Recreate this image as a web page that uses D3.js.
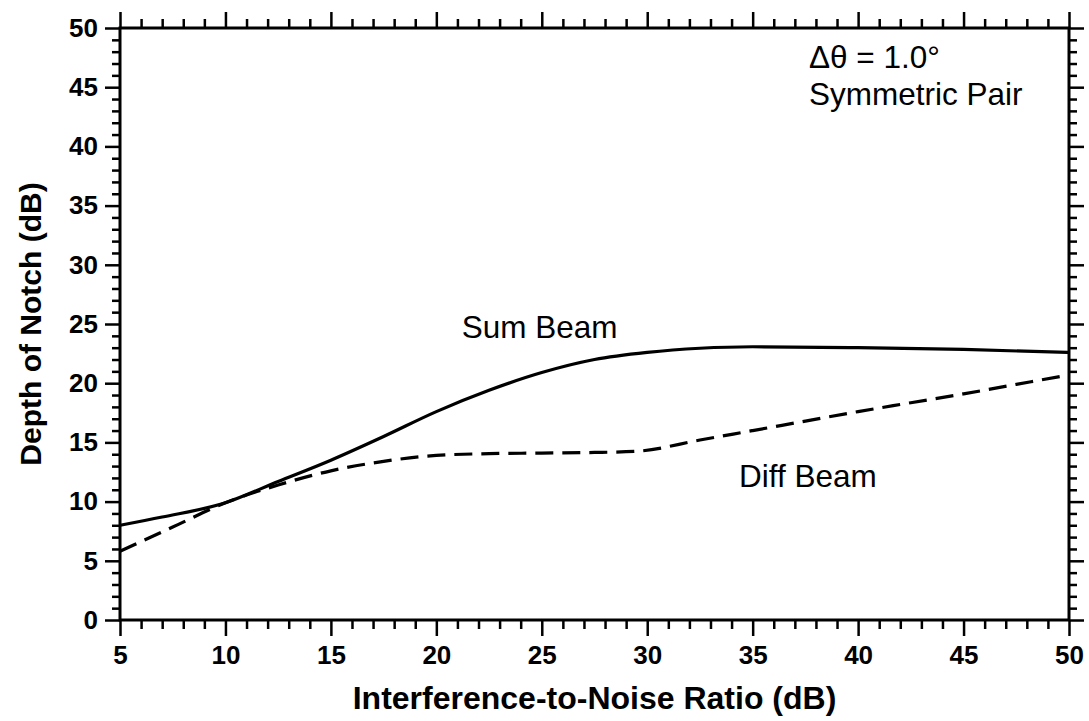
<!DOCTYPE html>
<html><head><meta charset="utf-8">
<script src="https://cdn.jsdelivr.net/npm/d3@7"></script>
<style>
body{margin:0;background:#fff;}
svg{display:block;}
</style></head>
<body>
<svg id="c" width="1089" height="721"></svg>
<script>
const inrSum = [5, 7, 10, 12.5, 15, 17.5, 20, 22.5, 25, 27.5, 30, 32.5, 35, 40, 45, 50];
const sumBeam = [8.0, 8.7, 9.9, 11.7, 13.5, 15.5, 17.6, 19.4, 20.9, 22.0, 22.6, 22.95, 23.08, 23.0, 22.85, 22.6];
const inrDiff = [5, 7.5, 10, 12.5, 15, 17.5, 20, 22.5, 25, 27.5, 29.5, 32.5, 35, 37.5, 40, 42.5, 45, 47.5, 50];
const diffBeam = [5.8, 7.85, 9.9, 11.4, 12.6, 13.4, 13.9, 14.05, 14.1, 14.15, 14.25, 15.2, 16.0, 16.8, 17.6, 18.35, 19.1, 19.9, 20.7];
const xMajor = [5, 10, 15, 20, 25, 30, 35, 40, 45, 50];
const yMajor = [0, 5, 10, 15, 20, 25, 30, 35, 40, 45, 50];
const xTitle = "Interference-to-Noise Ratio (dB)";
const yTitle = "Depth of Notch (dB)";
const labels = [
  {text: "Sum Beam", x: 21.2, y: 23.8},
  {text: "Diff Beam", x: 34.35, y: 11.2},
  {text: "Δθ = 1.0°", x: 37.67, y: 46.6},
  {text: "Symmetric Pair", x: 37.67, y: 43.5}
];

const svg = d3.select("#c");
const L = 120, R = 1069, T = 28, B = 620;
const x = d3.scaleLinear().domain([5, 50]).range([L, R]);
const y = d3.scaleLinear().domain([0, 50]).range([B, T]);
const xMinor = d3.range(5, 51, 1).filter(v => v % 5 !== 0);
const yMinor = d3.range(0, 51, 1).filter(v => v % 5 !== 0);
const font = "'Liberation Sans', Arial, sans-serif";

function styleAxis(g){
  g.select(".domain").remove();
  g.selectAll(".tick line").attr("stroke", "#000").attr("stroke-width", 2.5);
  g.selectAll(".tick text").attr("fill", "#000").attr("font-family", font).attr("font-weight", "bold").attr("font-size", 26);
}
// bottom
svg.append("g").attr("transform", `translate(0,${B})`)
  .call(d3.axisBottom(x).tickValues(xMajor).tickSize(16).tickPadding(10).tickFormat(d3.format("d"))).call(styleAxis);
svg.append("g").attr("transform", `translate(0,${B})`)
  .call(d3.axisBottom(x).tickValues(xMinor).tickSize(9).tickFormat("")).call(styleAxis);
// top
svg.append("g").attr("transform", `translate(0,${T})`)
  .call(d3.axisTop(x).tickValues(xMajor).tickSize(16).tickFormat("")).call(styleAxis);
svg.append("g").attr("transform", `translate(0,${T})`)
  .call(d3.axisTop(x).tickValues(xMinor).tickSize(9).tickFormat("")).call(styleAxis);
// left
svg.append("g").attr("transform", `translate(${L},0)`)
  .call(d3.axisLeft(y).tickValues(yMajor).tickSize(15).tickPadding(7).tickFormat(d3.format("d"))).call(styleAxis);
svg.append("g").attr("transform", `translate(${L},0)`)
  .call(d3.axisLeft(y).tickValues(yMinor).tickSize(8).tickFormat("")).call(styleAxis);
// right
svg.append("g").attr("transform", `translate(${R},0)`)
  .call(d3.axisRight(y).tickValues(yMajor).tickSize(15).tickFormat("")).call(styleAxis);
svg.append("g").attr("transform", `translate(${R},0)`)
  .call(d3.axisRight(y).tickValues(yMinor).tickSize(8).tickFormat("")).call(styleAxis);

// frame
svg.append("rect").attr("x", L).attr("y", T).attr("width", R - L).attr("height", B - T)
  .attr("fill", "none").attr("stroke", "#000").attr("stroke-width", 3);

// lines
const line = d3.line().x(d => x(d[0])).y(d => y(d[1])).curve(d3.curveMonotoneX);
svg.append("path").datum(inrSum.map((v, i) => [v, sumBeam[i]]))
  .attr("d", line).attr("fill", "none").attr("stroke", "#000").attr("stroke-width", 3.2);
svg.append("path").datum(inrDiff.map((v, i) => [v, diffBeam[i]]))
  .attr("d", line).attr("fill", "none").attr("stroke", "#000").attr("stroke-width", 3.2)
  .attr("stroke-dasharray", "18,9");

// annotations
svg.selectAll("text.ann").data(labels).enter().append("text").attr("class", "ann")
  .attr("x", d => x(d.x)).attr("y", d => y(d.y))
  .attr("font-family", font).attr("font-size", 31.5).attr("fill", "#000")
  .text(d => d.text);

// titles
svg.append("text").attr("x", (L + R) / 2).attr("y", 709).attr("text-anchor", "middle")
  .attr("font-family", font).attr("font-weight", "bold").attr("font-size", 32).text(xTitle);
svg.append("text").attr("transform", `translate(41,${(T + B) / 2}) rotate(-90)`).attr("text-anchor", "middle")
  .attr("font-family", font).attr("font-weight", "bold").attr("font-size", 30).text(yTitle);
</script>
</body></html>
